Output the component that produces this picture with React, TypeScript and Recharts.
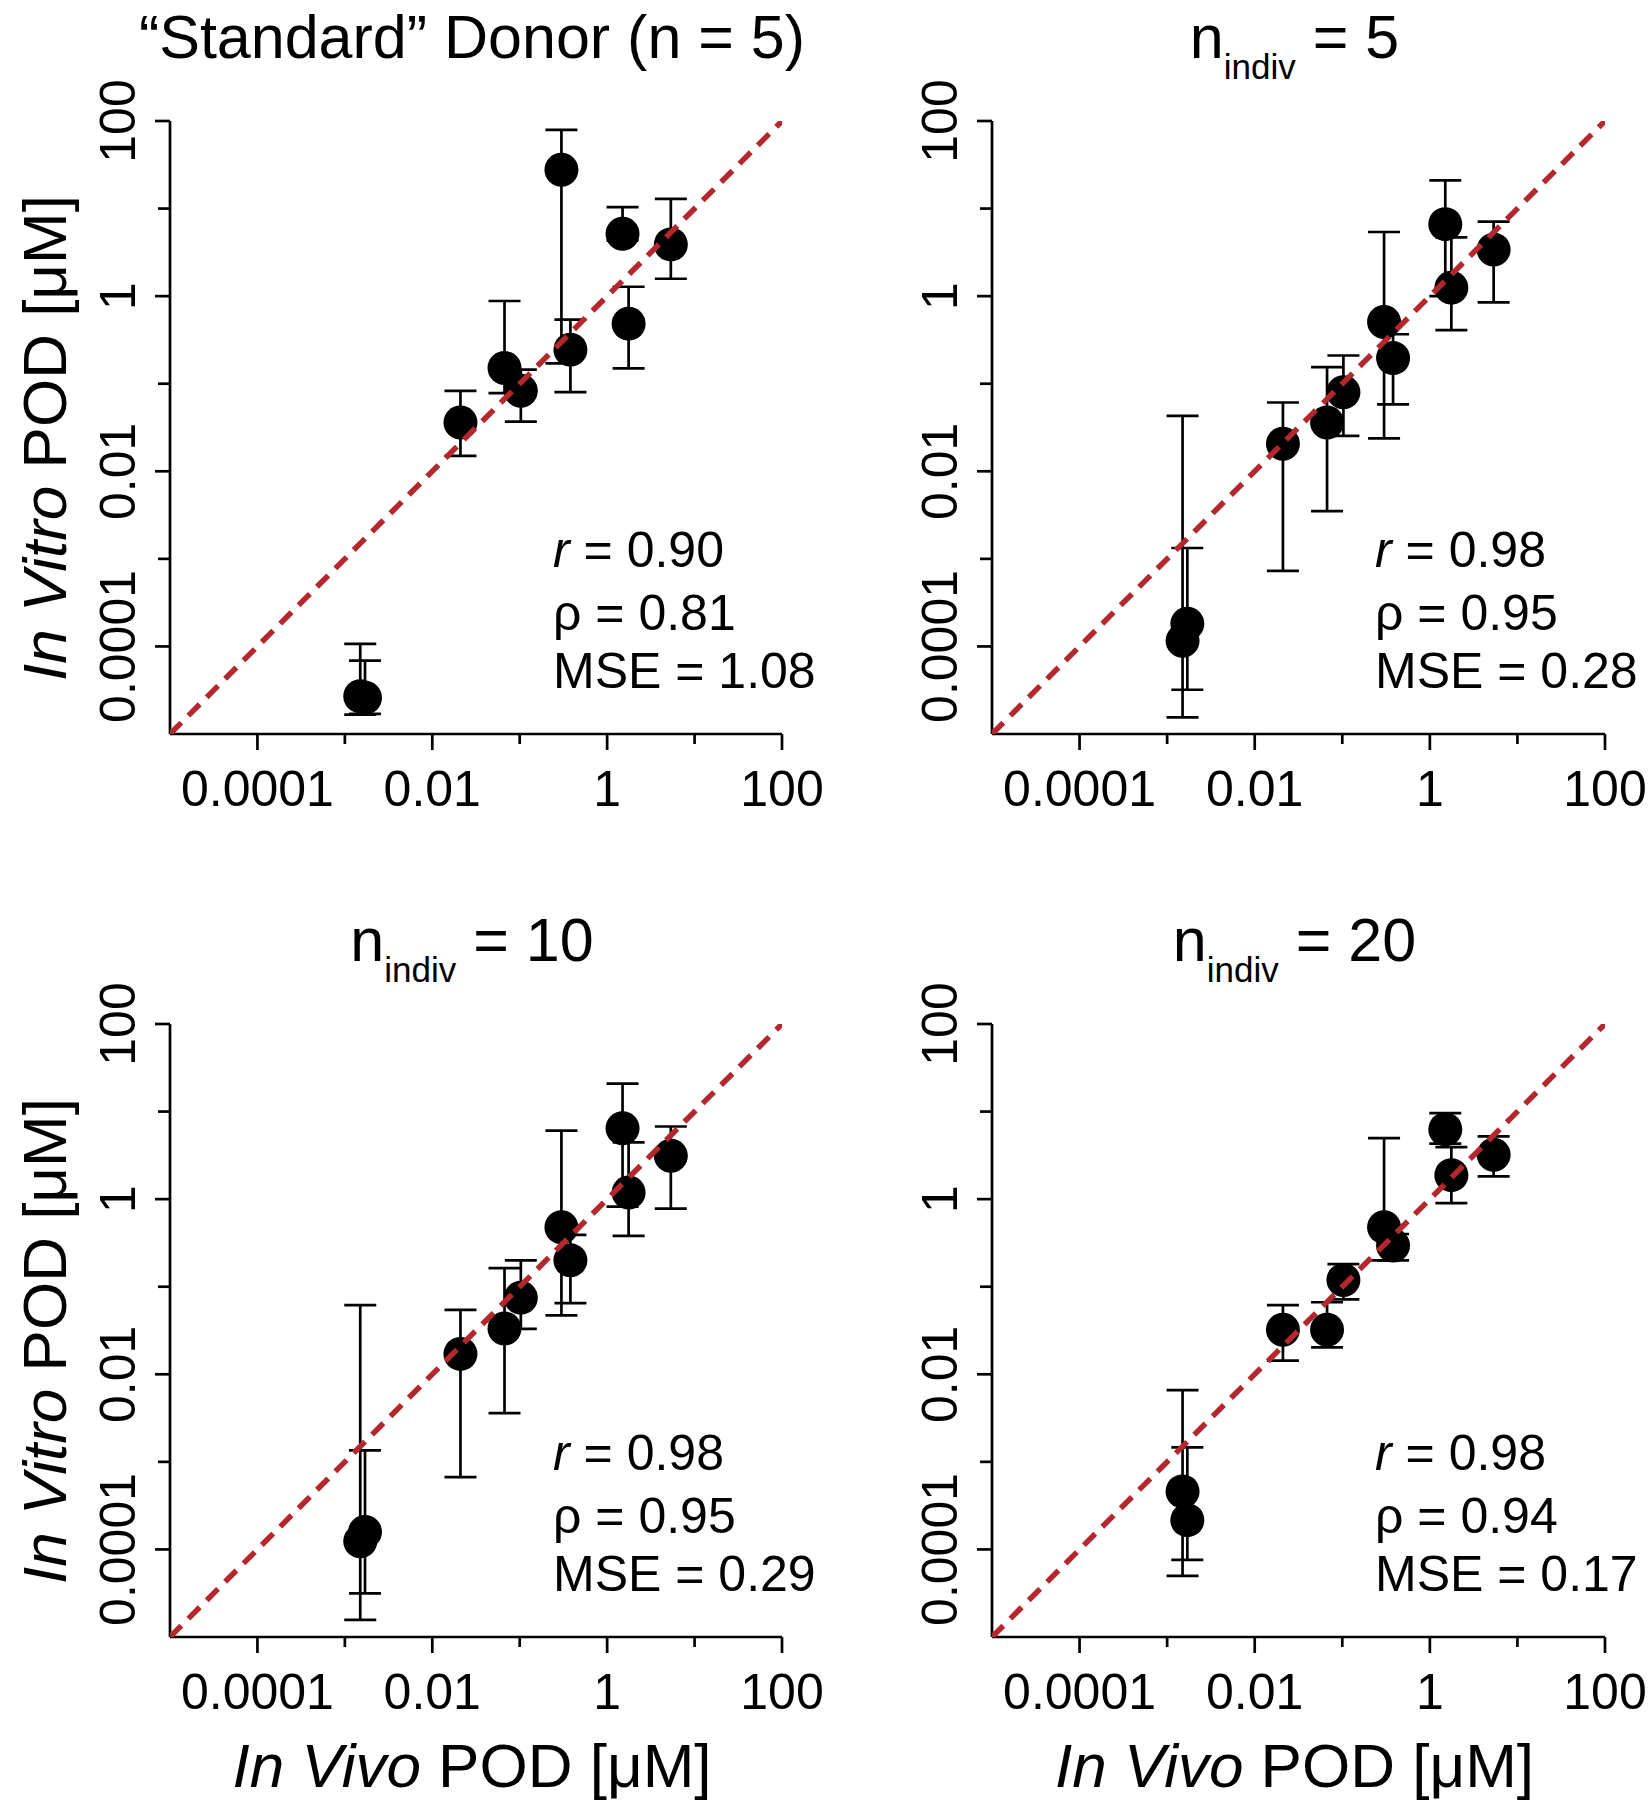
import React from 'react';
import { ScatterChart, Scatter, XAxis, YAxis, ErrorBar } from 'recharts';

const FONT = '"Liberation Sans", Arial, Helvetica, sans-serif';

// In vivo POD (µM) — shared x values for every panel
const inVivoPOD = [0.0015, 0.0017, 0.021, 0.067, 0.103, 0.3, 0.38, 1.5, 1.76, 5.35];

// "Standard" Donor (n = 5)
const standardY = [2.7e-5, 2.6e-5, 0.036, 0.151, 0.083, 27.8, 0.245, 5.16, 0.485, 3.9];
const standardLo = [1.66e-5, 1.7e-5, 0.015, 0.078, 0.037, 0.171, 0.08, 4.3, 0.15, 1.58];
const standardHi = [1.07e-4, 6.9e-5, 0.083, 0.88, 0.145, 79, 0.54, 10.4, 1.28, 12.9];

// n_indiv = 5
const indiv5Y = [1.16e-4, 1.82e-4, 0.0206, 0.036, 0.08, 0.506, 0.196, 6.64, 1.25, 3.4];
const indiv5Lo = [1.55e-5, 3.2e-5, 7.3e-4, 3.5e-3, 0.0254, 0.0237, 0.058, 1.0, 0.41, 0.85];
const indiv5Hi = [0.043, 1.33e-3, 0.061, 0.155, 0.21, 5.4, 0.367, 21, 4.7, 7.1];

// n_indiv = 10
const indiv10Y = [1.24e-4, 1.58e-4, 0.0171, 0.0333, 0.075, 0.478, 0.2, 6.44, 1.19, 3.13];
const indiv10Lo = [1.57e-5, 3.15e-5, 6.7e-4, 3.6e-3, 0.033, 0.047, 0.065, 0.82, 0.38, 0.78];
const indiv10Hi = [0.0615, 1.35e-3, 0.0544, 0.163, 0.2, 6.07, 0.39, 20.8, 4.45, 6.75];

// n_indiv = 20
const indiv20Y = [4.6e-4, 2.16e-4, 0.0322, 0.0322, 0.119, 0.478, 0.296, 6.26, 1.88, 3.22];
const indiv20Lo = [5e-5, 7.6e-5, 0.0143, 0.0203, 0.0718, 0.2, 0.2, 4.3, 0.9, 1.82];
const indiv20Hi = [6.6e-3, 1.46e-3, 0.0615, 0.0665, 0.181, 4.97, 0.4, 9.6, 3.93, 5.2];

// statistics text
const rValues = ['0.90', '0.98', '0.98', '0.98'];
const rhoValues = ['0.81', '0.95', '0.95', '0.94'];
const mseValues = ['1.08', '0.28', '0.29', '0.17'];
const subTitles = ['', '5', '10', '20'];

// identity line endpoints (x = y)
const identityLine = [1e-5, 100];

// axis ticks (log scale)
const axisDomain = [1e-5, 100];
const tickValues = [0.0001, 0.001, 0.01, 0.1, 1, 10, 100];
const tickLabels = ['0.0001', '', '0.01', '', '1', '', '100'];

const AX = 2.7;

function labelFor(v: number) {
  const i = tickValues.findIndex((t) => Math.abs(Math.log10(t) - Math.log10(v)) < 1e-6);
  return i >= 0 ? tickLabels[i] : '';
}

const XTick = (props: any) => {
  const { x, y, payload } = props;
  const label = labelFor(payload.value);
  const major = label !== '';
  return (
    <g>
      <line x1={x} x2={x} y1={y} y2={y + (major ? 16 : 10)} stroke="#000" strokeWidth={AX} />
      {major && (
        <text x={x} y={y + 72} textAnchor="middle" fontSize={50} fontFamily={FONT} fill="#000">
          {label}
        </text>
      )}
    </g>
  );
};

const YTick = (props: any) => {
  const { x, y, payload } = props;
  const label = labelFor(payload.value);
  const major = label !== '';
  const bx = x - 35;
  return (
    <g>
      <line x1={x - (major ? 15 : 12)} x2={x} y1={y} y2={y} stroke="#000" strokeWidth={AX} />
      {major && (
        <text
          x={bx}
          y={y}
          transform={`rotate(-90 ${bx} ${y})`}
          textAnchor="middle"
          fontSize={50}
          fontFamily={FONT}
          fill="#000"
        >
          {label}
        </text>
      )}
    </g>
  );
};

const Dot = (p: any) => <circle cx={p.cx} cy={p.cy} r={17} fill="#000" />;

type PanelDef = {
  ox: number; oy: number; L: number; R: number; T: number; B: number;
  y: number[]; lo: number[]; hi: number[];
};

const W = 825;
const H = 900;
const YW = 60;
const XH = 60;

function Panel({ ox, oy, L, R, T, B, y, lo, hi }: PanelDef) {
  const data = inVivoPOD.map((x, i) => ({ x, y: y[i], err: [y[i] - lo[i], hi[i] - y[i]] }));
  const diag = identityLine.map((v) => ({ x: v, y: v }));
  return (
    <div style={{ position: 'absolute', left: ox, top: oy, width: W, height: H }}>
      <ScatterChart
        width={W}
        height={H}
        margin={{ top: T - oy, left: L - ox - YW, right: ox + W - R, bottom: oy + H - B - XH }}
      >
        <XAxis
          dataKey="x"
          type="number"
          scale="log"
          domain={axisDomain}
          allowDataOverflow
          ticks={tickValues}
          interval={0}
          tickSize={0}
          tickMargin={0}
          tickLine={false}
          tick={(p: any) => <XTick {...p} />}
          axisLine={{ stroke: '#000', strokeWidth: AX }}
          height={XH}
        />
        <YAxis
          dataKey="y"
          type="number"
          scale="log"
          domain={axisDomain}
          allowDataOverflow
          ticks={tickValues}
          interval={0}
          tickSize={0}
          tickMargin={0}
          tickLine={false}
          tick={(p: any) => <YTick {...p} />}
          axisLine={{ stroke: '#000', strokeWidth: AX }}
          width={YW}
        />
        <Scatter data={data} isAnimationActive={false} shape={(p: any) => <Dot {...p} />}>
          <ErrorBar dataKey="err" direction="y" width={16} stroke="#000" strokeWidth={AX} isAnimationActive={false} />
        </Scatter>
        <Scatter
          data={diag}
          isAnimationActive={false}
          shape={() => <g />}
          line={{ stroke: '#b3272d', strokeWidth: 5.5, strokeDasharray: '16 10' }}
          lineType="joint"
        />
      </ScatterChart>
    </div>
  );
}

const geom = [
  { ox: 0, oy: 0, L: 170, R: 782, T: 121, B: 734 },
  { ox: 825, oy: 0, L: 992, R: 1605, T: 121, B: 734 },
  { ox: 0, oy: 900, L: 170, R: 782, T: 1024, B: 1637 },
  { ox: 825, oy: 900, L: 992, R: 1605, T: 1024, B: 1637 },
];

const series = [
  { y: standardY, lo: standardLo, hi: standardHi },
  { y: indiv5Y, lo: indiv5Lo, hi: indiv5Hi },
  { y: indiv10Y, lo: indiv10Lo, hi: indiv10Hi },
  { y: indiv20Y, lo: indiv20Lo, hi: indiv20Hi },
];

export default function App() {
  return (
    <div style={{ position: 'absolute', left: 0, top: 0, width: 1650, height: 1800, background: '#fff' }}>
      {geom.map((g, i) => (
        <Panel key={i} {...g} {...series[i]} />
      ))}
      <svg
        width={1650}
        height={1800}
        style={{ position: 'absolute', left: 0, top: 0, pointerEvents: 'none' }}
        fontFamily={FONT}
        fill="#000"
      >
        {geom.map((g, i) => {
          const cx = (g.L + g.R) / 2 - 4;
          const tb = g.T - 63;
          return (
            <g key={i}>
              {i === 0 ? (
                <text x={cx} y={tb} textAnchor="middle" fontSize={61}>
                  {'\u201CStandard\u201D Donor (n = 5)'}
                </text>
              ) : (
                <text x={cx} y={tb} textAnchor="middle" fontSize={61}>
                  n
                  <tspan fontSize={35} dy={21}>indiv</tspan>
                  <tspan fontSize={61} dy={-21}>{` = ${subTitles[i]}`}</tspan>
                </text>
              )}
              <text x={g.L + 383} y={g.T + 446} fontSize={50}>
                <tspan fontStyle="italic">r</tspan>
                {` = ${rValues[i]}`}
              </text>
              <text x={g.L + 383} y={g.T + 509} fontSize={50}>
                {`\u03C1 = ${rhoValues[i]}`}
              </text>
              <text x={g.L + 383} y={g.T + 567} fontSize={50}>
                {`MSE = ${mseValues[i]}`}
              </text>
              {i % 2 === 0 && (
                <text
                  x={66}
                  y={g.T + 317}
                  transform={`rotate(-90 66 ${g.T + 317})`}
                  textAnchor="middle"
                  fontSize={62}
                >
                  <tspan fontStyle="italic">In Vitro</tspan>
                  {' POD [\u03BCM]'}
                </text>
              )}
              {i >= 2 && (
                <text x={cx} y={1787} textAnchor="middle" fontSize={62}>
                  <tspan fontStyle="italic">In Vivo</tspan>
                  {' POD [\u03BCM]'}
                </text>
              )}
            </g>
          );
        })}
      </svg>
    </div>
  );
}
